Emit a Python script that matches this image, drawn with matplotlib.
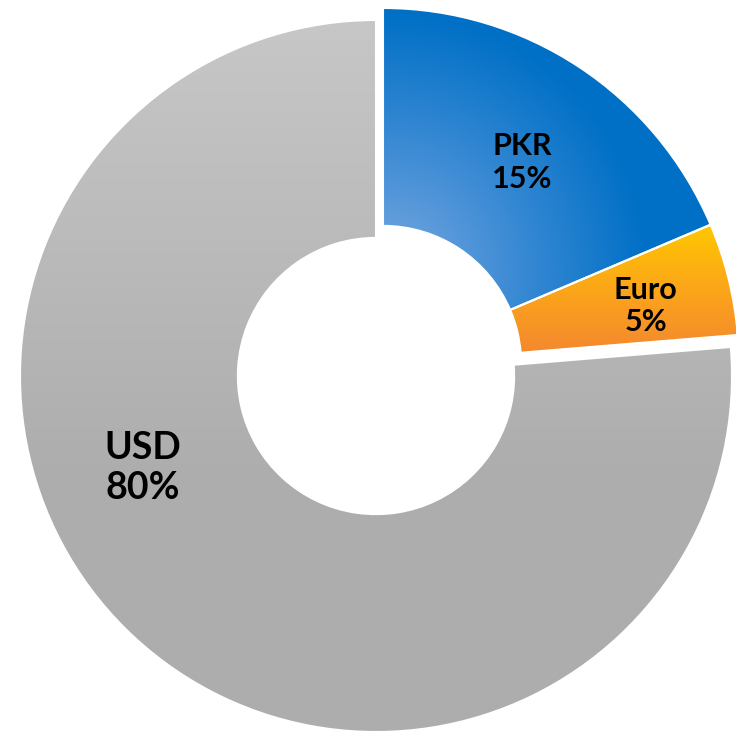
import matplotlib
matplotlib.use("Agg")
import matplotlib.pyplot as plt
import numpy as np
from matplotlib.colors import LinearSegmentedColormap

# data
currencies = ["PKR", "Euro", "USD"]
shares = [18.6, 5.1, 76.3]          # angular shares as drawn
label_pct = ["15%", "5%", "80%"]    # percentages printed on the chart

fig = plt.figure(figsize=(7.36, 7.34), dpi=100)
ax = fig.add_axes([0, 0, 1, 1])

wedges, _ = ax.pie(shares, startangle=90, counterclock=False,
                   radius=1.0, wedgeprops=dict(width=0.612, facecolor="none",
                                               edgecolor="white", linewidth=1.5))

# PKR and Euro are pulled out together by the same offset
shift = (7 / 356, 12 / 356)
for w in wedges[:2]:
    w.set_center(shift)

ax.set_xlim(-376 / 356, 360 / 356)
ax.set_ylim(-358 / 356, 376 / 356)
ax.set_aspect("equal")
ax.axis("off")

# gradient fills clipped to each wedge
n = 600
xs = np.linspace(-1.1, 1.1, n)
ys = np.linspace(-1.1, 1.1, n)
X, Y = np.meshgrid(xs, ys)
ext = (-1.1, 1.1, -1.1, 1.1)

# PKR: radial blue, light near the hole, dark at the rim
t_pkr = np.clip(np.hypot(X - 0.04, Y - 0.30) / 0.72, 0, 1)
cm_pkr = LinearSegmentedColormap.from_list("pkr", ["#78A8E0", "#3A8AD4", "#0070C6"])
# Euro: yellow top to orange bottom
t_eur = np.clip((0.43 - Y) / (0.43 - 0.05), 0, 1)
cm_eur = LinearSegmentedColormap.from_list("eur", ["#FFC800", "#FBA51A", "#F38630"])
# USD: light grey top to darker grey lower down
t_usd = np.clip((1.0 - Y) / 1.3, 0, 1)
cm_usd = LinearSegmentedColormap.from_list("usd", ["#C7C7C7", "#ADADAD"])

for w, t, cm in zip(wedges, [t_pkr, t_eur, t_usd], [cm_pkr, cm_eur, cm_usd]):
    im = ax.imshow(t, cmap=cm, extent=ext, origin="lower", zorder=0,
                   vmin=0, vmax=1, interpolation="bilinear")
    im.set_clip_path(w)
    w.set_zorder(2)

# labels
label_xy = [(0.41, 0.60), (0.758, 0.197), (-0.654, -0.258)]
label_size = [22, 22, 27]
for name, pct, (x, y), fs in zip(currencies, label_pct, label_xy, label_size):
    ax.text(x, y, name + "\n" + pct, ha="center", va="center", fontsize=fs,
            fontweight="bold", family="Lato", color="black", linespacing=1.2,
            zorder=3)

fig.savefig("out.png", dpi=100)
